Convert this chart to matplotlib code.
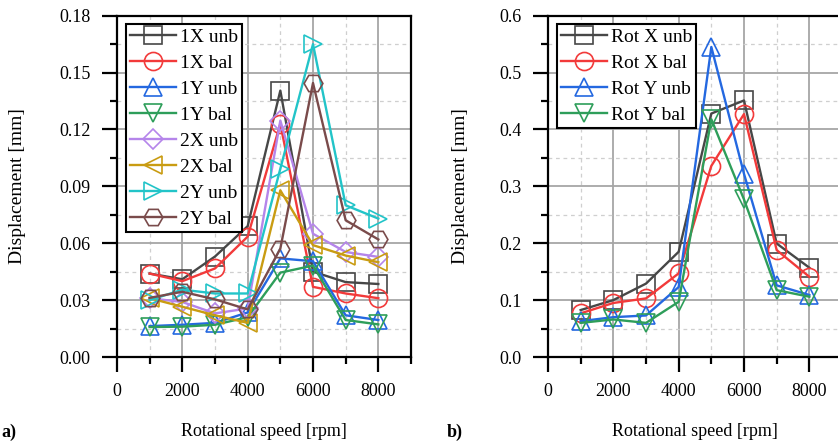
import matplotlib
matplotlib.use("Agg")
import matplotlib.pyplot as plt
from matplotlib.ticker import MultipleLocator, FormatStrFormatter

plt.rcParams['font.family'] = ['Liberation Serif', 'DejaVu Serif']

rpm = [1000, 2000, 3000, 4000, 5000, 6000, 7000, 8000]

# Panel a) translational displacement [mm]
labels_a = ["1X unb", "1X bal", "1Y unb", "1Y bal", "2X unb", "2X bal", "2Y unb", "2Y bal"]
x1_unb = [0.044, 0.041, 0.053, 0.069, 0.1405, 0.045, 0.0395, 0.0385]
x1_bal = [0.044, 0.040, 0.0467, 0.0635, 0.123, 0.037, 0.0335, 0.031]
y1_unb = [0.0163, 0.017, 0.018, 0.0235, 0.052, 0.0505, 0.022, 0.0195]
y1_bal = [0.0158, 0.016, 0.017, 0.021, 0.0445, 0.0482, 0.0195, 0.0172]
x2_unb = [0.031, 0.029, 0.023, 0.0256, 0.1247, 0.065, 0.0554, 0.0528]
x2_bal = [0.031, 0.0265, 0.022, 0.018, 0.0879, 0.059, 0.0535, 0.050]
y2_unb = [0.030, 0.0355, 0.0335, 0.0335, 0.0993, 0.165, 0.080, 0.073]
y2_bal = [0.0312, 0.0344, 0.0304, 0.0251, 0.0572, 0.1445, 0.0721, 0.062]
series_a = [x1_unb, x1_bal, y1_unb, y1_bal, x2_unb, x2_bal, y2_unb, y2_bal]

# Panel b) rotational displacement [mm]
labels_b = ["Rot X unb", "Rot X bal", "Rot Y unb", "Rot Y bal"]
rx_unb = [0.0825, 0.100, 0.129, 0.185, 0.428, 0.451, 0.1995, 0.157]
rx_bal = [0.0767, 0.095, 0.103, 0.147, 0.336, 0.427, 0.188, 0.141]
ry_unb = [0.063, 0.070, 0.073, 0.123, 0.545, 0.322, 0.126, 0.109]
ry_bal = [0.060, 0.066, 0.060, 0.097, 0.418, 0.277, 0.1175, 0.106]
series_b = [rx_unb, rx_bal, ry_unb, ry_bal]

colors = ["#474747", "#f23a3a", "#2468e0", "#2e9e5a", "#b585ea", "#c99c12", "#22c4c8", "#7a4b4b"]
markers = ["s", "o", "^", "v", "D", "<", ">", "H"]
msizes = [12.5, 13, 13.5, 13.5, 10.5, 13.5, 13.5, 13.5]

W, H = 838, 446
fig = plt.figure(figsize=(W / 100, H / 100), dpi=100)

def px_axes(l, r, t, b):
    return fig.add_axes([l / W, 1 - b / H, (r - l) / W, (b - t) / H])

axA = px_axes(117, 411, 15.7, 357)
axB = px_axes(548, 842, 15.7, 357)

def style(ax, ymax, ymaj, ymin, fmt):
    ax.set_xlim(0, 9000)
    ax.set_ylim(0, ymax)
    ax.xaxis.set_major_locator(MultipleLocator(2000))
    ax.xaxis.set_minor_locator(MultipleLocator(1000))
    ax.yaxis.set_major_locator(MultipleLocator(ymaj))
    ax.yaxis.set_minor_locator(MultipleLocator(ymin))
    ax.yaxis.set_major_formatter(FormatStrFormatter(fmt))
    ax.grid(which="major", color="#a6a6a6", lw=1.3, ls="-")
    ax.grid(which="minor", color="#cfcfcf", lw=0.9, ls=(0, (3, 3)))
    ax.set_axisbelow(True)
    for s in ax.spines.values():
        s.set_linewidth(1.6)
        s.set_color("black")
    ax.tick_params(which="major", direction="out", length=11, width=1.6, labelsize=13, pad=8)
    ax.tick_params(which="minor", direction="out", length=5, width=1.6)

style(axA, 0.18, 0.03, 0.015, "%.2f")
style(axB, 0.6, 0.1, 0.05, "%.1f")

for i, (vals, lab) in enumerate(zip(series_a, labels_a)):
    axA.plot(rpm, vals, color=colors[i], lw=1.7, marker=markers[i], ms=msizes[i],
             mfc="none", mec=colors[i], mew=1.2, label=lab, clip_on=False)
for i, (vals, lab) in enumerate(zip(series_b, labels_b)):
    axB.plot(rpm, vals, color=colors[i], lw=1.7, marker=markers[i], ms=msizes[i],
             mfc="none", mec=colors[i], mew=1.2, label=lab, clip_on=False)

for ax in (axA, axB):
    leg = ax.legend(loc="upper left", fontsize=14, frameon=True, fancybox=False,
                    borderpad=0.2, labelspacing=0.43, handlelength=2.4, handletextpad=0.2,
                    borderaxespad=0.45, framealpha=1)
    leg.get_frame().set_edgecolor("black")
    leg.get_frame().set_linewidth(1.5)

fig.text(18 / W, 1 - 186 / H, "Displacement [mm]", rotation=90, ha="center", va="center", fontsize=14)
fig.text(460 / W, 1 - 186 / H, "Displacement [mm]", rotation=90, ha="center", va="center", fontsize=14)
fig.text(264 / W, 1 - 432 / H, "Rotational speed [rpm]", ha="center", va="center", fontsize=13)
fig.text(695 / W, 1 - 432 / H, "Rotational speed [rpm]", ha="center", va="center", fontsize=13)
fig.text(1 / W, 1 - 432 / H, "a)", ha="left", va="center", fontsize=13, fontweight="bold")
fig.text(447 / W, 1 - 432 / H, "b)", ha="left", va="center", fontsize=13, fontweight="bold")

fig.savefig("out.png", dpi=100)
